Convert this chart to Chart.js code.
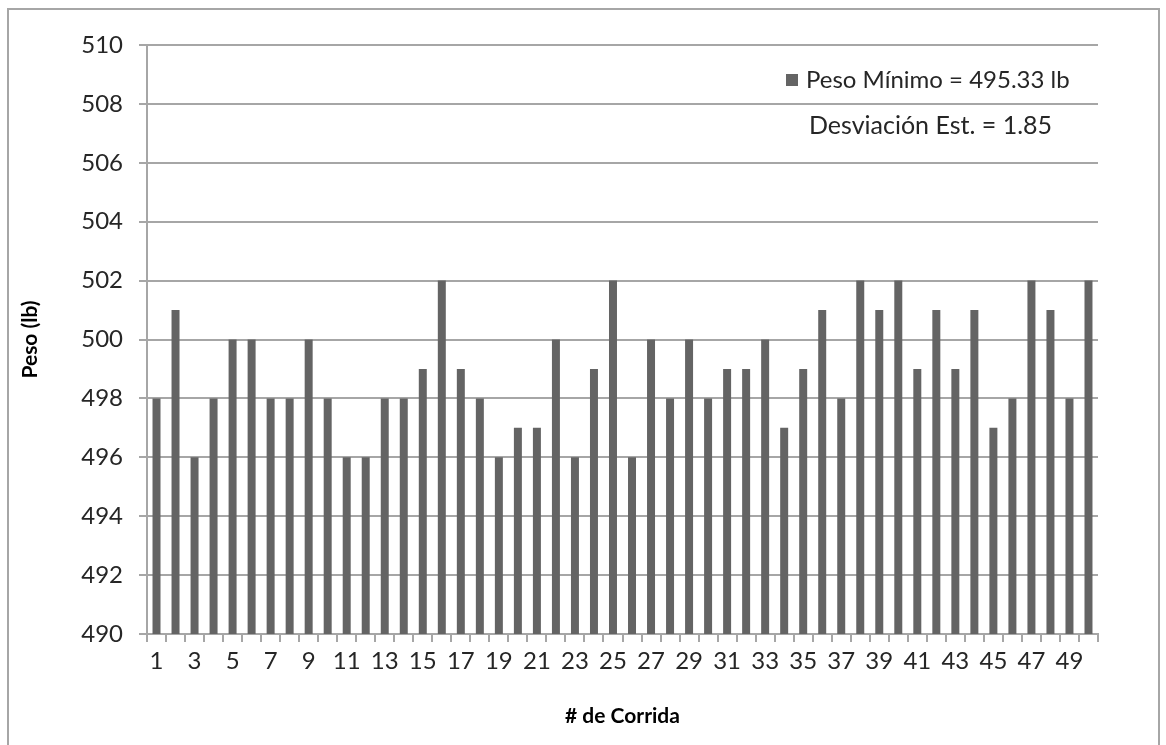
<!DOCTYPE html>
<html lang="es">
<head>
  <meta charset="UTF-8" />
  <title>Peso por corrida</title>
  <script src="https://cdn.jsdelivr.net/npm/chart.js"></script>
  <style>
    html, body { margin: 0; padding: 0; background: #ffffff; }
    .wrap { width: 1166px; height: 745px; position: relative; }
  </style>
</head>
<body>
<div class="wrap">
  <canvas id="pesoChart"></canvas>
</div>
<script>
  // run numbers 1..50
  const corridas = ['1','2','3','4','5','6','7','8','9','10','11','12','13','14','15','16','17','18','19','20',
    '21','22','23','24','25','26','27','28','29','30','31','32','33','34','35','36','37','38','39','40',
    '41','42','43','44','45','46','47','48','49','50'];
  // weight per run (lb)
  const pesos = [498, 501, 496, 498, 500, 500, 498, 498, 500, 498,
                 496, 496, 498, 498, 499, 502, 499, 498, 496, 497,
                 497, 500, 496, 499, 502, 496, 500, 498, 500, 498,
                 499, 499, 500, 497, 499, 501, 498, 502, 501, 502,
                 499, 501, 499, 501, 497, 498, 502, 501, 498, 502];
  const pesoMinimo = 495.33;
  const desviacion = 1.85;
  const yMin = 490, yMax = 510, yStep = 2;

  const gris = '#646464';
  const lineaGris = '#a6a6a6';
  const textoColor = '#262626';
  const fuente = 'Lato, "Open Sans", sans-serif';

  // outer frame + white background
  const marco = {
    id: 'marco',
    beforeDraw(chart) {
      const c = chart.ctx;
      c.save();
      c.fillStyle = '#ffffff';
      c.fillRect(0, 0, chart.width, chart.height);
      c.strokeStyle = lineaGris;
      c.lineWidth = 2;
      c.strokeRect(8, 9, 1151, 760);
      c.restore();
    }
  };

  // legend box + std deviation note inside the plot
  const leyenda = {
    id: 'leyenda',
    afterDraw(chart) {
      const c = chart.ctx;
      c.save();
      c.fillStyle = gris;
      c.fillRect(786, 74, 12, 12);
      c.fillStyle = textoColor;
      c.textBaseline = 'middle';
      c.textAlign = 'left';
      c.font = '24px ' + fuente;
      c.fillText(chart.data.datasets[0].label, 806, 80);
      c.font = '25px ' + fuente;
      c.fillText('Desviación Est. = ' + desviacion.toFixed(2), 809, 126);
      c.restore();
    }
  };

  new Chart(document.getElementById('pesoChart'), {
    type: 'bar',
    data: {
      labels: corridas,
      datasets: [{
        label: 'Peso Mínimo = ' + pesoMinimo.toFixed(2) + ' lb',
        data: pesos,
        backgroundColor: gris,
        borderWidth: 0,
        barPercentage: 0.42,
        categoryPercentage: 1.0
      }]
    },
    options: {
      responsive: true,
      maintainAspectRatio: false,
      animation: false,
      layout: { padding: { left: 10, top: 45, right: 68, bottom: 4 } },
      plugins: {
        legend: { display: false },
        tooltip: { enabled: false }
      },
      scales: {
        x: {
          offset: true,
          grid: { offset: true, drawOnChartArea: false, tickLength: 8, color: lineaGris, lineWidth: 2 },
          border: { color: lineaGris, width: 2 },
          ticks: {
            autoSkip: false,
            maxRotation: 0,
            padding: 5,
            color: textoColor,
            font: { family: fuente, size: 24 },
            callback: (v, i) => (i % 2 === 0 ? corridas[i] : '')
          },
          title: {
            display: true,
            text: '# de Corrida',
            color: '#000000',
            font: { family: fuente, size: 21, weight: 'bold' },
            padding: { top: 0, bottom: 12 }
          },
          afterFit(scale) { scale.height = 107; }
        },
        y: {
          min: yMin,
          max: yMax,
          grid: { color: lineaGris, lineWidth: 2, tickLength: 8 },
          border: { color: lineaGris, width: 2 },
          ticks: {
            stepSize: yStep,
            padding: 16,
            color: textoColor,
            font: { family: fuente, size: 24 }
          },
          title: {
            display: true,
            text: 'Peso (lb)',
            color: '#000000',
            font: { family: fuente, size: 21, weight: 'bold' },
            padding: { top: 8, bottom: 0 }
          },
          afterFit(scale) { scale.width = 137; }
        }
      }
    },
    plugins: [marco, leyenda]
  });
</script>
</body>
</html>
